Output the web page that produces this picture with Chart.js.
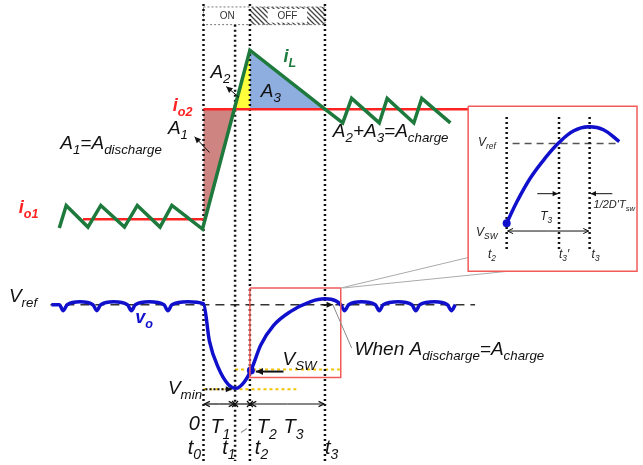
<!DOCTYPE html>
<html>
<head>
<meta charset="utf-8">
<script src="https://cdn.jsdelivr.net/npm/chart.js@4.4.1/dist/chart.umd.min.js"></script>
<style>
  html, body { margin: 0; padding: 0; background: #fff; }
  canvas { display: block; }
</style>
</head>
<body>
<canvas id="diagram" width="643" height="465"></canvas>
<script>
// time axis runs left to right, level axis points down (diagram units)

// switching instants t0, t1, t2, t3
const tMarks = [202, 234, 249, 325];

// output current before and after the load step
const io1 = 219;
const io2 = 107;

// inductor current iL
const iLTime  = [56, 63, 85, 98, 122, 135, 158, 170, 201, 249, 325, 343, 352, 380, 388, 415, 423, 452];
const iLLevel = [228, 205, 227, 205, 227, 205, 227, 205, 229, 47, 107, 121, 96, 121, 96, 121, 96, 121];

// charge areas between iL and io2
const a1Time = [202, 233, 202, 202];
const a1Level = [107, 107, 225, 107];
const a2Time = [233, 249, 249, 233];
const a2Level = [107, 47, 107, 107];
const a3Time = [249, 325, 249, 249];
const a3Level = [47, 107, 107, 47];

// output voltage vo
const voTime  = [48, 56, 60, 64, 77, 90, 94, 98, 111, 125, 129, 133, 147, 162, 166, 170, 186,
                 202, 208, 217, 227, 235, 243, 250, 260, 273, 290, 310, 325, 336, 341,
                 345, 349, 362, 376, 380, 384, 399, 413, 417, 421, 436, 449, 453, 457];
const voLevel = [306, 306, 312, 306, 303, 306, 312, 306, 303, 306, 312, 306, 303, 306, 312, 306, 303,
                 305, 343, 370, 387, 391, 385, 373, 347, 327, 313, 303, 300, 302, 306,
                 312, 306, 303, 306, 312, 306, 303, 306, 312, 306, 303, 306, 312, 306];
const vRef = 306;
const vMin = 392;
const vSw = 373;

// zoomed recovery between t2 and t3
const zoomTime  = [509, 520, 533, 547, 562, 577, 592, 607, 623];
const zoomLevel = [223, 200, 177, 158, 141, 129, 125, 128, 140];
const zoomMarks = [509, 562, 593];   // t2, t3', t3
const zoomRef = 142;

const ctx0 = document.getElementById('diagram').getContext('2d');

function hatch() {
  const c = document.createElement('canvas');
  c.width = 5; c.height = 5;
  const g = c.getContext('2d');
  g.strokeStyle = '#444';
  g.lineWidth = 1.3;
  g.beginPath();
  g.moveTo(-1, -1); g.lineTo(6, 6);
  g.moveTo(-4, 1); g.lineTo(4, 9);
  g.moveTo(1, -4); g.lineTo(9, 4);
  g.stroke();
  return ctx0.createPattern(c, 'repeat');
}

function path(xs, ys, opts) {
  return Object.assign({
    data: xs.map((x, i) => ({x: x, y: ys[i]})),
    pointRadius: 0,
    borderWidth: 2,
    borderColor: '#000',
    fill: false,
    tension: 0
  }, opts);
}

function area(xs, ys, color) {
  return path(xs, ys, {fill: 'shape', backgroundColor: color, borderWidth: 0});
}

function box(x0, y0, x1, y1, opts) {
  return path([x0, x1, x1, x0, x0], [y0, y0, y1, y1, y0], opts);
}

const dotted = {borderColor: '#111', borderWidth: 2.5, borderDash: [2, 3]};
const yellowDots = {borderColor: '#f5c400', borderWidth: 2, borderDash: [3, 3]};

// listed in paint order, first one at the bottom
const layers = [
  box(249, 3, 325, 21, {fill: 'shape', backgroundColor: hatch(), borderWidth: 0}),
  box(202, 3, 325, 21, {borderColor: '#777', borderWidth: 1, borderDash: [2, 2]}),
  area(a1Time, a1Level, 'rgb(206,132,128)'),
  area(a2Time, a2Level, '#ffff3c'),
  area(a3Time, a3Level, '#8eaee0'),
  path([47, 477], [vRef, vRef], {borderColor: '#333', borderWidth: 1.5, borderDash: [9, 6]}),
  path([202, 296], [vMin, vMin], yellowDots),
  path([234, 340], [vSw - 1, vSw - 1], yellowDots),
  path([tMarks[0], tMarks[0]], [0, 465], dotted),
  path([tMarks[1], tMarks[1]], [21, 465], dotted),
  path([tMarks[2], tMarks[2]], [0, 465], dotted),
  path([tMarks[3], tMarks[3]], [0, 465], dotted),
  path([80, 202], [io1, io1], {borderColor: '#ff2222', borderWidth: 2.5}),
  path([202, 470], [io2, io2], {borderColor: '#ff2222', borderWidth: 2.5}),
  path(iLTime, iLLevel, {borderColor: '#1d7a3c', borderWidth: 3.5, borderJoinStyle: 'miter'}),
  path(voTime, voLevel, {borderColor: '#1010cc', borderWidth: 3.5, cubicInterpolationMode: 'monotone'}),
  path([250], [vSw], {pointRadius: 4, pointBackgroundColor: '#1010cc', pointBorderWidth: 0, showLine: false}),
  box(249, 289, 341, 380, {borderColor: '#f25a5a', borderWidth: 1.5}),
  path([341, 470], [289, 258], {borderColor: '#aaa', borderWidth: 1}),
  path([343, 510], [289, 272], {borderColor: '#aaa', borderWidth: 1}),
  box(470, 104, 641, 272, {borderColor: '#f25a5a', borderWidth: 1.5, backgroundColor: '#fff', fill: 'shape'}),
  path([515, 623], [zoomRef, zoomRef], {borderColor: '#555', borderWidth: 1.5, borderDash: [7, 5]}),
  path([zoomMarks[0], zoomMarks[0]], [115, 252], dotted),
  path([zoomMarks[1], zoomMarks[1]], [115, 252], dotted),
  path([zoomMarks[2], zoomMarks[2]], [115, 252], dotted),
  path(zoomTime, zoomLevel, {borderColor: '#1010cc', borderWidth: 3.5, tension: 0.4}),
  path([zoomTime[0]], [zoomLevel[0]], {pointRadius: 4, pointBackgroundColor: '#1010cc', pointBorderWidth: 0, showLine: false})
];
layers.forEach((d, i) => { d.order = layers.length - i; });

// text with italic subscripts: parts are [text, isSubscript]
function rich(ctx, x, y, parts, size, color, bold, italic) {
  let cx = x;
  ctx.fillStyle = color;
  ctx.textAlign = 'left';
  ctx.textBaseline = 'alphabetic';
  for (const [txt, sub] of parts) {
    const s = sub ? size * 0.7 : size;
    ctx.font = (italic === false ? '' : 'italic ') + (bold ? 'bold ' : '') + s + 'px "Liberation Sans", Arial, sans-serif';
    ctx.fillText(txt, cx, sub ? y + size * 0.26 : y);
    cx += ctx.measureText(txt).width;
  }
}

function arrow(ctx, x0, y0, x1, y1, head, open, width) {
  ctx.strokeStyle = '#111';
  ctx.fillStyle = '#111';
  ctx.lineWidth = width || 1.2;
  ctx.beginPath(); ctx.moveTo(x0, y0); ctx.lineTo(x1, y1); ctx.stroke();
  const a = Math.atan2(y1 - y0, x1 - x0);
  ctx.beginPath();
  ctx.moveTo(x1 - head * Math.cos(a - 0.45), y1 - head * Math.sin(a - 0.45));
  ctx.lineTo(x1, y1);
  ctx.lineTo(x1 - head * Math.cos(a + 0.45), y1 - head * Math.sin(a + 0.45));
  if (open) { ctx.stroke(); } else { ctx.closePath(); ctx.fill(); }
}

const notes = {
  id: 'notes',
  afterDatasetsDraw(chart) {
    const ctx = chart.ctx;
    const sx = chart.scales.x, sy = chart.scales.y;
    const X = v => sx.getPixelForValue(v);
    const Y = v => sy.getPixelForValue(v);
    ctx.save();

    // switch state bar
    ctx.fillStyle = '#fff';
    ctx.fillRect(X(267), Y(5), X(307) - X(267), Y(19) - Y(5));
    ctx.font = '10px "Liberation Sans", Arial, sans-serif';
    ctx.fillStyle = '#333';
    ctx.textAlign = 'center';
    ctx.textBaseline = 'middle';
    ctx.fillText('ON', X(226), Y(12.5));
    ctx.fillText('OFF', X(287), Y(12.5));

    // current labels
    rich(ctx, X(283), Y(59), [['i', 0], ['L', 1]], 18, '#1d7a3c', true);
    rich(ctx, X(171), Y(109), [['i', 0], ['o2', 1]], 18, '#ff2222', true);
    rich(ctx, X(15), Y(213), [['i', 0], ['o1', 1]], 18, '#ff2222', true);
    rich(ctx, X(209), Y(75), [['A', 0], ['2', 1]], 19, '#111');
    rich(ctx, X(260), Y(95), [['A', 0], ['3', 1]], 19, '#111');
    rich(ctx, X(166), Y(132), [['A', 0], ['1', 1]], 19, '#111');
    rich(ctx, X(57), Y(148), [['A', 0], ['1', 1], ['=A', 0], ['discharge', 1]], 19, '#111');
    rich(ctx, X(333), Y(135), [['A', 0], ['2', 1], ['+A', 0], ['3', 1], ['=A', 0], ['charge', 1]], 19, '#111');
    arrow(ctx, X(208), Y(151), X(193), Y(135), 7, false, 1);
    arrow(ctx, X(238), Y(95), X(225), Y(84), 7, false, 1);

    // voltage labels
    rich(ctx, X(5), Y(303), [['V', 0], ['ref', 1]], 19, '#111');
    rich(ctx, X(133), Y(325), [['v', 0], ['o', 1]], 18, '#1010cc', true);
    rich(ctx, X(282), Y(367), [['V', 0], ['SW', 1]], 19, '#111');
    rich(ctx, X(166), Y(397), [['V', 0], ['min', 1]], 19, '#111');
    rich(ctx, X(355), Y(357), [['When A', 0], ['discharge', 1], ['=A', 0], ['charge', 1]], 19, '#111');
    arrow(ctx, X(283), Y(374), X(255), Y(374), 8, false, 2);
    ctx.setLineDash([2, 2]);
    arrow(ctx, X(204), Y(vMin), X(231), Y(vMin), 7, false, 2);
    ctx.setLineDash([]);
    ctx.strokeStyle = '#888';
    ctx.lineWidth = 1;
    ctx.beginPath(); ctx.moveTo(X(333), Y(306)); ctx.lineTo(X(352), Y(350)); ctx.stroke();
    arrow(ctx, X(322), Y(306), X(333), Y(306), 7, false, 1);

    // interval arrows
    const ya = Y(407);
    arrow(ctx, X(218), ya, X(tMarks[0] + 1), ya, 6, true);
    arrow(ctx, X(218), ya, X(tMarks[1] - 1), ya, 6, true);
    arrow(ctx, X(287), ya, X(tMarks[2] + 1), ya, 6, true);
    arrow(ctx, X(287), ya, X(tMarks[3] - 1), ya, 6, true);
    ctx.beginPath(); ctx.moveTo(X(tMarks[1]), ya); ctx.lineTo(X(tMarks[2]), ya); ctx.stroke();
    for (const t of [tMarks[1], tMarks[2]]) {
      ctx.beginPath();
      ctx.moveTo(X(t) - 3, ya - 3); ctx.lineTo(X(t) + 3, ya + 3);
      ctx.moveTo(X(t) + 3, ya - 3); ctx.lineTo(X(t) - 3, ya + 3);
      ctx.stroke();
    }
    rich(ctx, X(187), Y(433), [['0', 0]], 20, '#111');
    rich(ctx, X(209), Y(437), [['T', 0], ['1', 1]], 20, '#111');
    rich(ctx, X(256), Y(437), [['T', 0], ['2', 1]], 20, '#111');
    rich(ctx, X(283), Y(437), [['T', 0], ['3', 1]], 20, '#111');
    ctx.strokeStyle = '#999';
    ctx.beginPath(); ctx.moveTo(X(240), Y(436)); ctx.lineTo(X(246), Y(432)); ctx.stroke();
    rich(ctx, X(186), Y(458), [['t', 0], ['0', 1]], 20, '#111');
    rich(ctx, X(221), Y(458), [['t', 0], ['1', 1]], 20, '#111');
    rich(ctx, X(254), Y(458), [['t', 0], ['2', 1]], 20, '#111');
    rich(ctx, X(325), Y(458), [['t', 0], ['3', 1]], 20, '#111');

    // zoomed view labels
    rich(ctx, X(480), Y(144), [['V', 0], ['ref', 1]], 12, '#222');
    rich(ctx, X(478), Y(236), [['V', 0], ['SW', 1]], 12, '#222');
    rich(ctx, X(490), Y(258), [['t', 0], ['2', 1]], 12, '#222');
    rich(ctx, X(562), Y(258), [['t', 0], ['3', 1], ['\u2032', 0]], 12, '#222');
    rich(ctx, X(595), Y(258), [['t', 0], ['3', 1]], 12, '#222');
    rich(ctx, X(543), Y(220), [['T', 0], ['3', 1]], 12, '#222');
    rich(ctx, X(597), Y(208), [['1/2D\'T', 0], ['sw', 1]], 11, '#222');
    arrow(ctx, X(540), Y(193), X(zoomMarks[1] - 1), Y(193), 6, false, 1);
    arrow(ctx, X(616), Y(193), X(zoomMarks[2] + 1), Y(193), 6, false, 1);
    arrow(ctx, X(551), Y(231), X(zoomMarks[0] + 1), Y(231), 6, true, 1);
    arrow(ctx, X(551), Y(231), X(zoomMarks[2] - 1), Y(231), 6, true, 1);

    ctx.restore();
  }
};

new Chart(ctx0, {
  type: 'line',
  data: {datasets: layers},
  options: {
    responsive: false,
    animation: false,
    devicePixelRatio: 1,
    layout: {padding: 0},
    plugins: {legend: {display: false}, tooltip: {enabled: false}},
    events: [],
    scales: {
      x: {type: 'linear', min: 0, max: 643, display: false},
      y: {type: 'linear', min: 0, max: 465, reverse: true, display: false}
    }
  },
  plugins: [notes]
});
</script>
</body>
</html>
